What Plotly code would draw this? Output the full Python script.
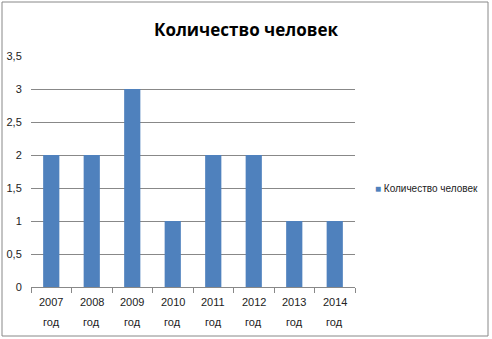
import plotly.graph_objects as go

years = ["2007", "2008", "2009", "2010", "2011", "2012", "2013", "2014"]
values = [2, 2, 3, 1, 2, 2, 1, 1]
series_name = "Количество человек"
y_ticks = [0, 0.5, 1, 1.5, 2, 2.5, 3, 3.5]
y_tick_labels = ["0", "0,5", "1", "1,5", "2", "2,5", "3", "3,5"]
year_suffix = "год"

W, H = 492, 339
L, R, T, B = 31, 137, 56, 52
pw = W - L - R
ph = H - T - B

def px_x(x):
    return (x - L) / pw

def px_y(y):
    return (H - B - y) / ph

fig = go.Figure()
fig.add_trace(go.Bar(x=years, y=values, name=series_name,
                     marker=dict(color="#4F81BD", line=dict(width=0)),
                     showlegend=False))

annotations = []
for i, yr in enumerate(years):
    annotations.append(dict(x=i, xref="x", y=px_y(302), yref="paper",
                            text=yr, showarrow=False, xanchor="center",
                            yanchor="middle",
                            font=dict(size=11, color="#222")))
    annotations.append(dict(x=i, xref="x", y=px_y(322), yref="paper",
                            text=year_suffix, showarrow=False,
                            xanchor="center", yanchor="middle",
                            font=dict(size=11, color="#222")))
annotations.append(dict(x=px_x(373), xref="paper", y=px_y(188), yref="paper",
                        text="<span style='color:#4F81BD;font-size:10px'>■</span> " + series_name,
                        showarrow=False, xanchor="left", yanchor="middle",
                        font=dict(size=10, color="#222")))

fig.update_layout(
    width=W, height=H,
    margin=dict(l=L, r=R, t=T, b=B, autoexpand=False),
    paper_bgcolor="white", plot_bgcolor="white",
    bargap=0.6,
    showlegend=False,
    font=dict(family="Liberation Sans", size=11, color="#222"),
    title=dict(text="<b>Количество человек</b>", x=0.5, xref="container",
               xanchor="center", y=(H - 30) / H, yanchor="middle",
               font=dict(family="Open Sans", size=17, color="black")),
    xaxis=dict(type="category", range=[-0.5, len(years) - 0.5],
               showgrid=False, showline=True,
               linecolor="#888", linewidth=1, ticks="outside",
               tickson="boundaries", ticklen=5, tickcolor="#888",
               showticklabels=False),
    yaxis=dict(range=[0, 3.5], tickvals=y_ticks, ticktext=y_tick_labels,
               showgrid=True, gridcolor="#888", gridwidth=1,
               showline=False, zeroline=False, ticks="outside",
               ticklen=6, tickcolor="white",
               tickfont=dict(size=11, color="#222")),
    annotations=annotations,
    shapes=[dict(type="rect", xref="paper", yref="paper",
                 x0=px_x(2), x1=px_x(488), y0=px_y(336), y1=px_y(2),
                 line=dict(color="#888", width=1), layer="below")],
)

fig.write_html("out.html")
